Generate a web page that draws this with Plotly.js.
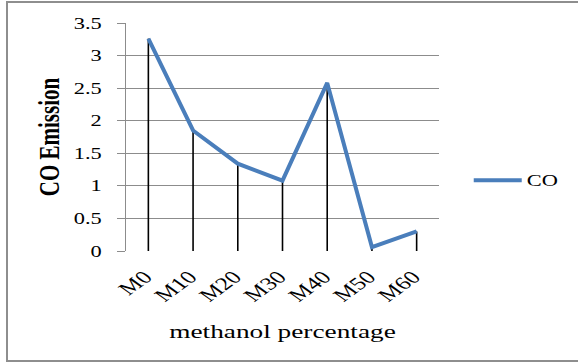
<!DOCTYPE html>
<html>
<head>
<meta charset="utf-8">
<script src="https://cdn.plot.ly/plotly-3.0.1.min.js"></script>
<style>
html,body{margin:0;padding:0;background:#fff;overflow:hidden;width:578px;height:362px;}
#chart{width:578px;height:362px;position:absolute;left:0;top:0;}
#frame{position:absolute;left:6px;top:1px;width:620px;height:357px;border:2px solid #8e8e8e;pointer-events:none;}
</style>
</head>
<body>
<div id="chart"></div>
<div id="frame"></div>
<script>
const categories = ["M0", "M10", "M20", "M30", "M40", "M50", "M60"];
const coValues = [3.26, 1.85, 1.34, 1.08, 2.58, 0.06, 0.30];
const yTicks = [0, 0.5, 1, 1.5, 2, 2.5, 3, 3.5];
const yTickLabels = ["0", "0.5", "1", "1.5", "2", "2.5", "3", "3.5"];

const zeros = coValues.map(() => 0);

const traces = [
  {
    type: "scatter",
    mode: "lines",
    x: categories,
    y: coValues,
    name: "CO",
    line: {color: "#4a7ebb", width: 4},
    error_y: {
      type: "data",
      symmetric: false,
      array: zeros,
      arrayminus: coValues,
      width: 0,
      thickness: 1.6,
      color: "#000000"
    },
    hoverinfo: "x+y"
  }
];

const serif = "Liberation Serif";

const layout = {
  width: 578,
  height: 362,
  margin: {l: 126, r: 139, t: 23, b: 111},
  paper_bgcolor: "#ffffff",
  plot_bgcolor: "#ffffff",
  font: {family: serif, color: "#000000"},
  showlegend: true,
  legend: {
    x: 1.095, y: 0.31, xanchor: "left", yanchor: "middle",
    font: {family: serif, size: 16, color: "#000"},
    itemwidth: 48,
    bgcolor: "rgba(0,0,0,0)"
  },
  xaxis: {
    type: "category",
    categoryorder: "array",
    categoryarray: categories,
    range: [-0.5, 6.5],
    tickangle: -45,
    tickfont: {family: serif, size: 18, color: "#000"},
    ticklabelstandoff: 11,
    showgrid: false,
    zeroline: false,
    showline: false,
    ticks: "",
    automargin: false,
    title: {text: "methanol percentage", font: {family: serif, size: 19.5, color: "#000"}, standoff: 20}
  },
  yaxis: {
    range: [0, 3.5],
    tickvals: yTicks,
    ticktext: yTickLabels,
    tickfont: {family: serif, size: 16, color: "#000"},
    ticklabelstandoff: 12,
    showgrid: true,
    gridcolor: "#8c8c8c",
    gridwidth: 1,
    zeroline: false,
    showline: true,
    linecolor: "#8c8c8c",
    linewidth: 1,
    ticks: "outside",
    ticklen: 8,
    tickcolor: "#8c8c8c",
    automargin: false,
    title: {text: "<b>CO Emission</b>", font: {family: serif, size: 21, color: "#000"}, standoff: 19}
  }
};

// Horizontal stretch of all text, as in the reference picture.
function stretchText(gd, s) {
  gd.querySelectorAll("[clip-path]").forEach(el => {
    if (el.closest(".legend")) el.removeAttribute("clip-path");
  });
  const svgs = gd.querySelectorAll("svg.main-svg");
  svgs.forEach(svg => {
    svg.querySelectorAll("text").forEach(t => {
      const r = t.getBoundingClientRect();
      if (!r.width) return;
      const anchor = t.getAttribute("text-anchor") || (t.style && t.style.textAnchor) || "start";
      let sx;
      if (anchor === "end") sx = r.right;
      else if (anchor === "middle") sx = r.left + r.width / 2;
      else sx = r.left;
      const p = svg.createSVGPoint();
      p.x = sx; p.y = r.top + r.height / 2;
      const ctm = t.parentNode.getScreenCTM();
      const lp = p.matrixTransform(ctm.inverse());
      const old = t.getAttribute("transform") || "";
      t.setAttribute("transform",
        "translate(" + lp.x + "," + lp.y + ") scale(" + s + ",1) translate(" + (-lp.x) + "," + (-lp.y) + ") " + old);
    });
  });
}

Plotly.newPlot("chart", traces, layout, {displayModeBar: false, responsive: false, staticPlot: true})
  .then(gd => stretchText(gd, 1.4));
</script>
</body>
</html>
